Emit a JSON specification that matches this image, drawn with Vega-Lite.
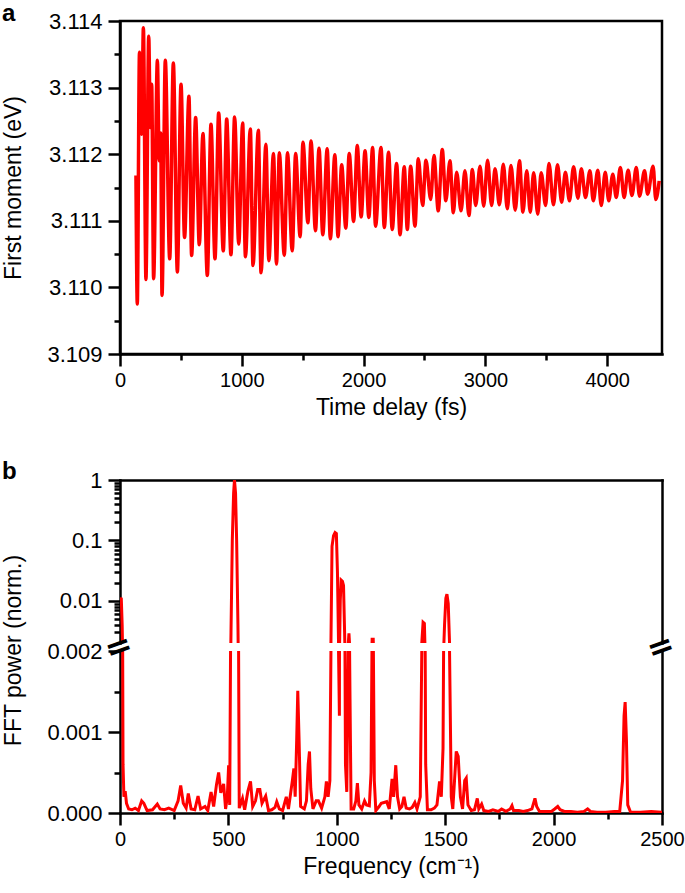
{
  "$schema": "https://vega.github.io/schema/vega-lite/v6.json",
  "padding": {"left": 0, "top": 0, "right": 0, "bottom": 0},
  "background": "white",
  "config": {
    "font": "Liberation Sans",
    "view": {"stroke": null},
    "axis": {"grid": false, "domainColor": "black", "domainWidth": 2.5, "tickColor": "black", "tickWidth": 2.5, "labelColor": "black", "titleColor": "black", "labelFontSize": 22, "titleFontSize": 23, "titleFontWeight": "normal", "labelFont": "Liberation Sans", "titleFont": "Liberation Sans", "labelPadding": 6, "labelOverlap": false, "labelFlush": false, "domainCap": "square"},
    "axisX": {"labelFontSize": 20, "labelPadding": 4},
    "title": {"font": "Liberation Sans", "fontSize": 24, "fontWeight": "bold", "color": "black", "anchor": "start", "frame": "group"}
  },
  "datasets": {
    "moment": [
      {"t":131,"v":3.11168},{"t":142,"v":3.10975},{"t":160,"v":3.11353},{"t":178,"v":3.1123},{"t":192,"v":3.1139},{"t":213,"v":3.11012},{"t":236,"v":3.11377},{"t":249,"v":3.1124},{"t":260,"v":3.11305},{"t":276,"v":3.11013},{"t":307,"v":3.11341},{"t":322,"v":3.1119},{"t":334,"v":3.11232},{"t":345,"v":3.10988},{"t":372,"v":3.11341},{"t":408,"v":3.11043},{"t":438,"v":3.11337},{"t":471,"v":3.11023},{"t":501,"v":3.11305},{"t":530,"v":3.11075},{"t":566,"v":3.11287},{"t":588,"v":3.11048},{"t":621,"v":3.11255},{"t":651,"v":3.11064},{"t":681,"v":3.11231},{"t":717,"v":3.11018},{"t":747,"v":3.11245},{"t":780,"v":3.11043},{"t":810,"v":3.11262},{"t":848,"v":3.11055},{"t":876,"v":3.11253},{"t":911,"v":3.11049},{"t":941,"v":3.11256},{"t":975,"v":3.11065},{"t":1007,"v":3.11247},{"t":1030,"v":3.11046},{"t":1070,"v":3.11238},{"t":1092,"v":3.11033},{"t":1136,"v":3.11236},{"t":1158,"v":3.11022},{"t":1198,"v":3.11215},{"t":1222,"v":3.1104},{"t":1260,"v":3.11201},{"t":1285,"v":3.11035},{"t":1308,"v":3.11202},{"t":1349,"v":3.11048},{"t":1375,"v":3.11202},{"t":1414,"v":3.11055},{"t":1442,"v":3.11201},{"t":1479,"v":3.11076},{"t":1502,"v":3.11218},{"t":1543,"v":3.11097},{"t":1568,"v":3.1122},{"t":1605,"v":3.11085},{"t":1634,"v":3.11209},{"t":1665,"v":3.11079},{"t":1701,"v":3.11208},{"t":1727,"v":3.11073},{"t":1764,"v":3.11199},{"t":1790,"v":3.11076},{"t":1820,"v":3.11184},{"t":1854,"v":3.11089},{"t":1882,"v":3.11201},{"t":1918,"v":3.11099},{"t":1948,"v":3.11213},{"t":1980,"v":3.11106},{"t":2012,"v":3.11205},{"t":2043,"v":3.11105},{"t":2074,"v":3.1121},{"t":2098,"v":3.11092},{"t":2143,"v":3.1121},{"t":2170,"v":3.1109},{"t":2205,"v":3.11203},{"t":2235,"v":3.11087},{"t":2271,"v":3.11186},{"t":2299,"v":3.11079},{"t":2334,"v":3.11181},{"t":2359,"v":3.11087},{"t":2386,"v":3.11182},{"t":2422,"v":3.11092},{"t":2449,"v":3.11193},{"t":2485,"v":3.11123},{"t":2512,"v":3.11191},{"t":2551,"v":3.11132},{"t":2578,"v":3.11198},{"t":2613,"v":3.11115},{"t":2646,"v":3.11207},{"t":2675,"v":3.1113},{"t":2709,"v":3.1119},{"t":2737,"v":3.11112},{"t":2764,"v":3.11173},{"t":2800,"v":3.11115},{"t":2832,"v":3.11175},{"t":2865,"v":3.11108},{"t":2893,"v":3.11177},{"t":2920,"v":3.11123},{"t":2956,"v":3.11182},{"t":2986,"v":3.11122},{"t":3018,"v":3.11191},{"t":3051,"v":3.11123},{"t":3079,"v":3.11178},{"t":3115,"v":3.11124},{"t":3147,"v":3.11185},{"t":3180,"v":3.11118},{"t":3210,"v":3.11183},{"t":3245,"v":3.11116},{"t":3280,"v":3.1119},{"t":3308,"v":3.11113},{"t":3340,"v":3.11175},{"t":3368,"v":3.11113},{"t":3396,"v":3.11172},{"t":3430,"v":3.1111},{"t":3458,"v":3.11172},{"t":3494,"v":3.11123},{"t":3522,"v":3.11186},{"t":3559,"v":3.11124},{"t":3592,"v":3.11184},{"t":3626,"v":3.11128},{"t":3657,"v":3.11173},{"t":3690,"v":3.1113},{"t":3724,"v":3.11181},{"t":3760,"v":3.11134},{"t":3788,"v":3.11178},{"t":3822,"v":3.11135},{"t":3858,"v":3.11175},{"t":3886,"v":3.1113},{"t":3923,"v":3.11176},{"t":3951,"v":3.11123},{"t":3984,"v":3.11173},{"t":4013,"v":3.1113},{"t":4046,"v":3.1117},{"t":4074,"v":3.11135},{"t":4108,"v":3.1118},{"t":4139,"v":3.11135},{"t":4172,"v":3.11176},{"t":4203,"v":3.11138},{"t":4239,"v":3.1118},{"t":4265,"v":3.11137},{"t":4307,"v":3.11175},{"t":4332,"v":3.1114},{"t":4377,"v":3.11182},{"t":4399,"v":3.11132},{"t":4427,"v":3.1116}
    ],
    "fft": [
      {"f":0,"p":0.011},{"f":6,"p":0.0108},{"f":10,"p":0.004},{"f":14,"p":0.0006},{"f":18,"p":0.0002},{"f":24,"p":0.00027},{"f":30,"p":0.00012},{"f":40,"p":0.00005},{"f":55,"p":0.00004},{"f":70,"p":0.00006},{"f":85,"p":0.00003},{"f":100,"p":0.00015},{"f":110,"p":0.00012},{"f":125,"p":0.00003},{"f":150,"p":0.00004},{"f":172,"p":0.00011},{"f":185,"p":0.00005},{"f":205,"p":0.00004},{"f":225,"p":0.00006},{"f":250,"p":0.00003},{"f":268,"p":0.00015},{"f":280,"p":0.00034},{"f":292,"p":0.00012},{"f":305,"p":0.00006},{"f":315,"p":0.00024},{"f":328,"p":0.00005},{"f":345,"p":0.00004},{"f":360,"p":0.00021},{"f":372,"p":0.00005},{"f":392,"p":0.00008},{"f":405,"p":0.00003},{"f":420,"p":0.00026},{"f":432,"p":0.00008},{"f":445,"p":0.00035},{"f":455,"p":0.0005},{"f":465,"p":0.00025},{"f":478,"p":0.00036},{"f":487,"p":0.00005},{"f":495,"p":0.0002},{"f":501,"p":0.00059},{"f":506,"p":0.0001},{"f":512,"p":0.003},{"f":518,"p":0.1},{"f":524,"p":0.6},{"f":528,"p":1.0},{"f":533,"p":0.6},{"f":538,"p":0.1},{"f":544,"p":0.004},{"f":550,"p":0.00006},{"f":565,"p":0.00018},{"f":575,"p":0.00004},{"f":590,"p":0.00027},{"f":602,"p":0.00039},{"f":612,"p":0.00008},{"f":625,"p":0.00015},{"f":635,"p":0.00029},{"f":645,"p":0.00029},{"f":655,"p":0.00012},{"f":672,"p":0.00021},{"f":685,"p":0.00003},{"f":700,"p":0.00004},{"f":715,"p":0.00007},{"f":723,"p":0.00014},{"f":735,"p":0.00005},{"f":750,"p":0.00003},{"f":767,"p":0.0002},{"f":777,"p":0.00005},{"f":795,"p":0.0004},{"f":802,"p":0.00055},{"f":808,"p":0.0002},{"f":815,"p":0.0009},{"f":820,"p":0.00151},{"f":826,"p":0.0009},{"f":833,"p":0.00008},{"f":850,"p":0.00005},{"f":860,"p":0.00015},{"f":868,"p":0.0006},{"f":874,"p":0.00076},{"f":880,"p":0.0003},{"f":890,"p":0.00005},{"f":905,"p":0.00015},{"f":915,"p":0.00015},{"f":930,"p":0.00006},{"f":945,"p":0.0002},{"f":952,"p":0.00039},{"f":960,"p":0.0002},{"f":968,"p":0.0004},{"f":973,"p":0.002},{"f":978,"p":0.08},{"f":985,"p":0.12},{"f":992,"p":0.135},{"f":998,"p":0.13},{"f":1003,"p":0.03},{"f":1008,"p":0.002},{"f":1012,"p":0.0012},{"f":1016,"p":0.01},{"f":1020,"p":0.022},{"f":1026,"p":0.021},{"f":1031,"p":0.018},{"f":1036,"p":0.003},{"f":1040,"p":0.0006},{"f":1046,"p":0.00026},{"f":1051,"p":0.0015},{"f":1056,"p":0.0029},{"f":1061,"p":0.0014},{"f":1066,"p":0.00005},{"f":1078,"p":0.00005},{"f":1088,"p":0.00015},{"f":1095,"p":0.00037},{"f":1102,"p":0.0001},{"f":1115,"p":0.00005},{"f":1128,"p":0.00015},{"f":1137,"p":0.0001},{"f":1150,"p":0.00009},{"f":1158,"p":0.0005},{"f":1163,"p":0.0023},{"f":1168,"p":0.0023},{"f":1173,"p":0.0004},{"f":1180,"p":0.00003},{"f":1195,"p":0.00008},{"f":1205,"p":0.00012},{"f":1218,"p":0.00013},{"f":1230,"p":0.00014},{"f":1242,"p":0.00005},{"f":1255,"p":0.00042},{"f":1262,"p":0.0002},{"f":1272,"p":0.00059},{"f":1280,"p":0.0002},{"f":1290,"p":0.00005},{"f":1300,"p":0.00008},{"f":1310,"p":0.0002},{"f":1320,"p":0.00006},{"f":1335,"p":0.00005},{"f":1348,"p":0.00007},{"f":1360,"p":0.00013},{"f":1370,"p":0.00005},{"f":1385,"p":0.0002},{"f":1392,"p":0.002},{"f":1398,"p":0.0044},{"f":1404,"p":0.0042},{"f":1410,"p":0.0006},{"f":1418,"p":0.00004},{"f":1435,"p":0.00004},{"f":1450,"p":0.00006},{"f":1462,"p":0.0001},{"f":1474,"p":0.00039},{"f":1482,"p":0.0002},{"f":1490,"p":0.0008},{"f":1497,"p":0.004},{"f":1503,"p":0.011},{"f":1508,"p":0.0129},{"f":1514,"p":0.009},{"f":1520,"p":0.002},{"f":1528,"p":0.0002},{"f":1535,"p":0.00005},{"f":1543,"p":0.0004},{"f":1551,"p":0.00076},{"f":1560,"p":0.0007},{"f":1570,"p":0.0002},{"f":1580,"p":0.00005},{"f":1590,"p":0.0004},{"f":1597,"p":0.00043},{"f":1605,"p":0.0001},{"f":1620,"p":0.00003},{"f":1635,"p":0.00004},{"f":1648,"p":0.00018},{"f":1655,"p":0.00005},{"f":1668,"p":0.00011},{"f":1678,"p":0.00003},{"f":1700,"p":0.00002},{"f":1720,"p":0.00004},{"f":1745,"p":0.00002},{"f":1760,"p":0.00005},{"f":1780,"p":0.00002},{"f":1800,"p":0.00005},{"f":1808,"p":0.00009},{"f":1815,"p":0.00003},{"f":1840,"p":0.00003},{"f":1860,"p":0.00002},{"f":1880,"p":0.00003},{"f":1900,"p":0.00005},{"f":1914,"p":0.00018},{"f":1922,"p":0.00008},{"f":1935,"p":0.00002},{"f":1960,"p":0.00002},{"f":1990,"p":0.00002},{"f":2005,"p":0.00005},{"f":2019,"p":0.00008},{"f":2030,"p":0.00004},{"f":2050,"p":0.00002},{"f":2080,"p":0.00002},{"f":2110,"p":0.00001},{"f":2140,"p":0.00002},{"f":2157,"p":0.00005},{"f":2170,"p":0.00002},{"f":2200,"p":0.00001},{"f":2240,"p":0.00001},{"f":2280,"p":0.00002},{"f":2305,"p":0.00002},{"f":2318,"p":0.0004},{"f":2325,"p":0.0012},{"f":2330,"p":0.00137},{"f":2336,"p":0.0009},{"f":2342,"p":0.0001},{"f":2355,"p":0.00001},{"f":2400,"p":0.00001},{"f":2450,"p":0.00002},{"f":2500,"p":0.00001}
    ],
    "breaks": [{"f": 0, "p": 0.002}, {"f": 2500, "p": 0.002}]
  },
  "vconcat": [
    {
      "width": 542, "height": 333,
      "title": {"text": "a", "dx": -118, "dy": 18, "offset": 2},
      "view": {"stroke": "black", "strokeWidth": 2.5},
      "data": {"name": "moment"},
      "layer": [
        {
          "mark": {"type": "line", "color": "#ff0000", "strokeWidth": 3.5, "interpolate": "monotone", "clip": true},
          "encoding": {
            "x": {"field": "t", "type": "quantitative", "scale": {"domain": [0, 4450], "nice": false, "zero": false},
              "axis": {"orient": "bottom", "values": [0, 1000, 2000, 3000, 4000], "format": "d", "tickSize": 12, "title": "Time delay (fs)", "titlePadding": 6}},
            "y": {"field": "v", "type": "quantitative", "scale": {"domain": [3.109, 3.114], "nice": false, "zero": false},
              "axis": {"orient": "left", "values": [3.109, 3.11, 3.111, 3.112, 3.113, 3.114], "format": ".3f", "tickSize": 12, "title": "First moment (eV)", "titleX": -95}}
          }
        },
        {
          "mark": {"type": "line", "opacity": 0, "clip": true},
          "encoding": {
            "x": {"field": "t", "type": "quantitative", "scale": {"domain": [0, 4450], "nice": false, "zero": false},
              "axis": {"orient": "bottom", "values": [500, 1500, 2500, 3500], "tickSize": 6, "labels": false, "domain": false, "title": null}},
            "y": {"field": "v", "type": "quantitative", "scale": {"domain": [3.109, 3.114], "nice": false, "zero": false},
              "axis": {"orient": "left", "values": [3.1095, 3.1105, 3.1115, 3.1125, 3.1135], "tickSize": 6, "labels": false, "domain": false, "title": null}}
          }
        }
      ],
      "resolve": {"axis": {"x": "independent", "y": "independent"}}
    },
    {
      "width": 542, "height": 110,
      "data": {"values": [{}]},
      "mark": {"type": "point", "opacity": 0},
      "encoding": {}
    },
    {
      "width": 542, "height": 163,
      "title": {"text": "b", "dx": -118, "dy": 17, "offset": 2},
      "data": {"name": "fft"},
      "layer": [
        {
          "mark": {"type": "line", "color": "#ff0000", "strokeWidth": 3, "clip": true},
          "encoding": {
            "x": {"field": "f", "type": "quantitative", "scale": {"domain": [0, 2500], "nice": false},
              "axis": {"orient": "top", "labels": false, "ticks": false, "title": null}},
            "y": {"field": "p", "type": "quantitative", "scale": {"type": "log", "domain": [0.002, 1], "nice": false},
              "axis": {"orient": "left", "values": [0.01, 0.1, 1], "labelExpr": "format(datum.value, '~g')", "tickSize": 12,
                "title": "FFT power (norm.)", "titleX": -95, "titleY": 170}}
          }
        },
        {
          "mark": {"type": "line", "opacity": 0, "clip": true},
          "encoding": {
            "x": {"field": "f", "type": "quantitative", "axis": null},
            "y": {"field": "p", "type": "quantitative", "scale": {"type": "log", "domain": [0.002, 1], "nice": false},
              "axis": {"orient": "left", "values": [0.003, 0.004, 0.005, 0.006, 0.007, 0.008, 0.009, 0.02, 0.03, 0.04, 0.05, 0.06, 0.07, 0.08, 0.09, 0.2, 0.3, 0.4, 0.5, 0.6, 0.7, 0.8, 0.9], "tickSize": 6, "labels": false, "domain": false, "title": null}}
          }
        },
        {
          "mark": {"type": "line", "opacity": 0, "clip": true},
          "encoding": {
            "x": {"field": "f", "type": "quantitative", "axis": null},
            "y": {"field": "p", "type": "quantitative", "scale": {"type": "log", "domain": [0.002, 1], "nice": false},
              "axis": {"orient": "right", "labels": false, "ticks": false, "title": null}}
          }
        }
      ],
      "resolve": {"axis": {"x": "independent", "y": "independent"}}
    },
    {
      "width": 542, "height": 162,
      "layer": [
        {
          "data": {"name": "fft"},
          "mark": {"type": "line", "color": "#ff0000", "strokeWidth": 3, "clip": true},
          "encoding": {
            "x": {"field": "f", "type": "quantitative", "scale": {"domain": [0, 2500], "nice": false},
              "axis": {"orient": "bottom", "values": [0, 500, 1000, 1500, 2000, 2500], "format": "d", "tickSize": 12, "title": "Frequency (cm⁻¹)", "titlePadding": 6}},
            "y": {"field": "p", "type": "quantitative", "scale": {"domain": [0, 0.002], "nice": false},
              "axis": {"orient": "left", "values": [0, 0.001, 0.002], "format": ".3f", "tickSize": 12, "title": null}}
          }
        },
        {
          "data": {"name": "fft"},
          "mark": {"type": "line", "opacity": 0, "clip": true},
          "encoding": {
            "x": {"field": "f", "type": "quantitative", "axis": {"orient": "bottom", "values": [250, 750, 1250, 1750, 2250], "tickSize": 6, "labels": false, "domain": false, "title": null}},
            "y": {"field": "p", "type": "quantitative", "axis": {"orient": "left", "values": [0.0005, 0.0015], "tickSize": 6, "labels": false, "domain": false, "title": null}}
          }
        },
        {
          "data": {"name": "fft"},
          "mark": {"type": "line", "opacity": 0, "clip": true},
          "encoding": {
            "x": {"field": "f", "type": "quantitative", "axis": null},
            "y": {"field": "p", "type": "quantitative", "axis": {"orient": "right", "labels": false, "ticks": false, "title": null}}
          }
        },
        {
          "data": {"name": "breaks"},
          "mark": {"type": "text", "text": "=", "angle": -20, "fontSize": 32, "fontWeight": "bold", "font": "DejaVu Sans", "color": "black", "dy": -4, "align": "center", "baseline": "middle"},
          "encoding": {
            "x": {"field": "f", "type": "quantitative", "axis": null},
            "y": {"field": "p", "type": "quantitative", "axis": null}
          }
        }
      ],
      "resolve": {"axis": {"x": "independent", "y": "independent"}}
    }
  ],
  "spacing": 8,
  "bounds": "flush"
}
